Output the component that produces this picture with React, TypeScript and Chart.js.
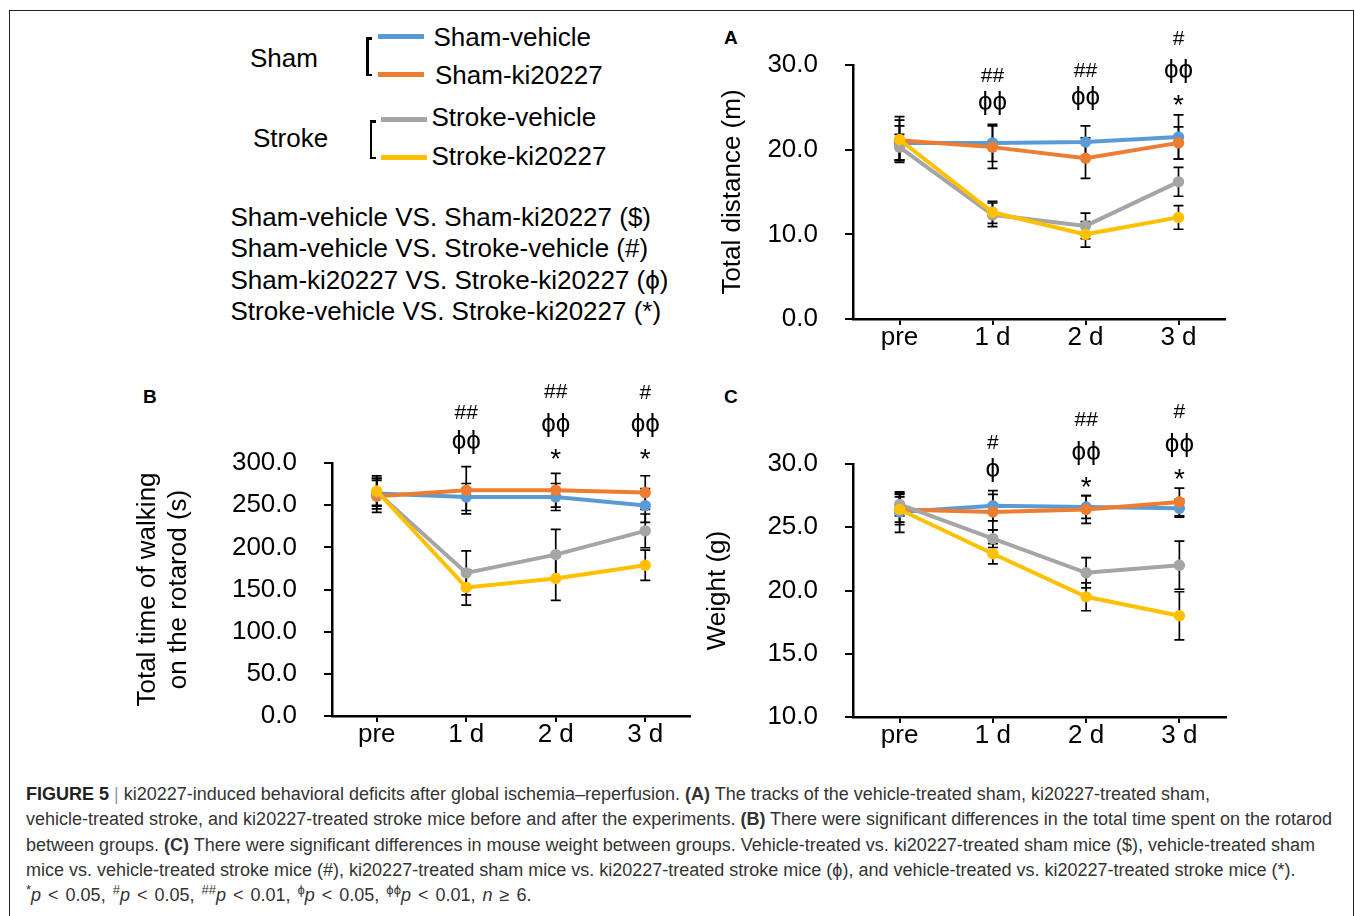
import React, { useEffect, useRef } from 'react';
import { Chart, registerables } from 'chart.js';

Chart.register(...registerables);

const FONT = "'Liberation Sans', Arial, Helvetica, sans-serif";
Chart.defaults.font.family = FONT;

// ---------- data ----------
const categories = ['pre', '1 d', '2 d', '3 d'];
const seriesNames = ['Sham-vehicle', 'Sham-ki20227', 'Stroke-vehicle', 'Stroke-ki20227'];
const seriesColors = ['#5B9BD5', '#ED7D31', '#A5A5A5', '#FFC000'];
const drawOrder = [3, 2, 1, 0];

// Panel A: total distance (m)
const distShamVehicle = [20.8, 20.8, 20.9, 21.5];
const distShamKi = [21.1, 20.3, 19.0, 20.8];
const distStrokeVehicle = [20.3, 12.3, 11.0, 16.2];
const distStrokeKi = [21.2, 12.6, 10.0, 12.0];
const distShamVehicleErr = [2.0, 2.2, 1.9, 2.6];
const distShamKiErr = [2.4, 2.5, 2.4, 1.9];
const distStrokeVehicleErr = [1.5, 1.4, 1.5, 1.7];
const distStrokeKiErr = [2.7, 1.3, 1.5, 1.4];
const distMarks: [string, string, number][] = [
  ['1 d', '##', 28.9], ['1 d', 'ϕϕ', 25.5],
  ['2 d', '##', 29.5], ['2 d', 'ϕϕ', 26.1],
  ['3 d', '#', 33.3], ['3 d', 'ϕϕ', 29.3], ['3 d', '*', 26.1],
];

// Panel B: total time on rotarod (s)
const rotShamVehicle = [263.7, 259.7, 259.7, 249.5];
const rotShamKi = [260.5, 267.6, 267.6, 264.9];
const rotStrokeVehicle = [265.7, 169.7, 191.4, 219.5];
const rotStrokeKi = [266.8, 152.4, 163.0, 178.8];
const rotShamVehicleErr = [18, 16, 16, 20];
const rotShamKiErr = [19, 28, 20, 20];
const rotStrokeVehicleErr = [16, 26, 30, 20];
const rotStrokeKiErr = [18, 21, 26, 18];
const rotMarks: [string, string, number][] = [
  ['1 d', '##', 360.8], ['1 d', 'ϕϕ', 325.3],
  ['2 d', '##', 386.6], ['2 d', 'ϕϕ', 345.1], ['2 d', '*', 313.0],
  ['3 d', '#', 384.6], ['3 d', 'ϕϕ', 345.1], ['3 d', '*', 313.0],
];

// Panel C: weight (g)
const wShamVehicle = [26.2, 26.7, 26.6, 26.5];
const wShamKi = [26.4, 26.2, 26.4, 27.0];
const wStrokeVehicle = [26.8, 24.1, 21.4, 22.0];
const wStrokeKi = [26.4, 22.9, 19.5, 18.0];
const wShamVehicleErr = [1.6, 1.2, 0.9, 0.7];
const wShamKiErr = [1.2, 1.4, 1.1, 1.1];
const wStrokeVehicleErr = [0.9, 0.7, 1.2, 1.9];
const wStrokeKiErr = [1.0, 0.8, 1.1, 1.9];
const wMarks: [string, string, number][] = [
  ['1 d', '#', 31.76], ['1 d', 'ϕ', 29.53],
  ['2 d', '##', 33.6], ['2 d', 'ϕϕ', 30.85], ['2 d', '*', 28.73],
  ['3 d', '#', 34.2], ['3 d', 'ϕϕ', 31.5], ['3 d', '*', 29.39],
];

const comparisonLines = [
  'Sham-vehicle VS. Sham-ki20227 ($)',
  'Sham-vehicle VS. Stroke-vehicle (#)',
  'Sham-ki20227 VS. Stroke-ki20227 (ϕ)',
  'Stroke-vehicle VS. Stroke-ki20227 (*)',
];

// ---------- plugins ----------
const errorBarPlugin = {
  id: 'errorBars',
  beforeDatasetsDraw(chart: any, _args: any, opts: any) {
    const { ctx } = chart;
    const xs = chart.scales.x;
    const ys = chart.scales.y;
    const errs: number[][] = opts.errors || [];
    ctx.save();
    ctx.strokeStyle = '#000';
    ctx.lineWidth = 1.7;
    chart.data.datasets.forEach((ds: any, di: number) => {
      (ds.data as number[]).forEach((v, i) => {
        const e = errs[di]?.[i] ?? 0;
        const px = xs.getPixelForValue(i);
        const top = ys.getPixelForValue(v + e);
        const bot = ys.getPixelForValue(v - e);
        ctx.beginPath();
        ctx.moveTo(px, top);
        ctx.lineTo(px, bot);
        ctx.moveTo(px - 5, top);
        ctx.lineTo(px + 5, top);
        ctx.moveTo(px - 5, bot);
        ctx.lineTo(px + 5, bot);
        ctx.stroke();
      });
    });
    ctx.restore();
  },
};

// font size and vertical lift (in em) of each annotation glyph
const glyphStyle: Record<string, { size: number; lift: number }> = {
  '#': { size: 21, lift: 0.36 },
  'ϕ': { size: 26, lift: 0.27 },
  '*': { size: 28, lift: 0.58 },
};

const sigPlugin = {
  id: 'sigMarks',
  afterDraw(chart: any, _args: any, opts: any) {
    const { ctx } = chart;
    const xs = chart.scales.x;
    const ys = chart.scales.y;
    ctx.save();
    ctx.fillStyle = '#000';
    ctx.textAlign = 'center';
    ctx.textBaseline = 'alphabetic';
    (opts.marks || []).forEach((m: [string, string, number]) => {
      const st = glyphStyle[m[1][0]] || glyphStyle['#'];
      ctx.font = `${st.size}px ${FONT}`;
      const px = xs.getPixelForValue(categories.indexOf(m[0]));
      const py = ys.getPixelForValue(m[2]);
      ctx.fillText(m[1], px, py + st.lift * st.size);
    });
    ctx.restore();
  },
};

type PanelCfg = {
  left: number; top: number; w: number; h: number;
  padding: { top: number; right: number; bottom: number; left: number };
  yWidth: number; xHeight: number; titlePad: number;
  yMin: number; yMax: number; yStep: number;
  yTitle: string | string[];
  values: number[][]; errors: number[][];
  marks: [string, string, number][];
};

function Panel({ cfg }: { cfg: PanelCfg }) {
  const ref = useRef<HTMLCanvasElement>(null);
  useEffect(() => {
    const c = cfg;
    const chart = new Chart(ref.current as HTMLCanvasElement, {
      type: 'line',
      data: {
        labels: categories,
        datasets: c.values.map((vals, i) => ({
          label: seriesNames[i],
          data: vals,
          borderColor: seriesColors[i],
          backgroundColor: seriesColors[i],
          pointBackgroundColor: seriesColors[i],
          pointBorderColor: seriesColors[i],
          pointBorderWidth: 0,
          pointRadius: 5.7,
          borderWidth: 4,
          tension: 0,
          order: drawOrder[i],
        })),
      },
      options: {
        responsive: false,
        animation: false,
        devicePixelRatio: 1,
        layout: { padding: c.padding },
        plugins: {
          legend: { display: false },
          tooltip: { enabled: false },
          title: { display: false },
          errorBars: { errors: c.errors },
          sigMarks: { marks: c.marks },
        } as any,
        scales: {
          x: {
            type: 'category',
            offset: true,
            grid: {
              display: true, drawOnChartArea: false, drawTicks: true,
              tickLength: 6, color: '#000', lineWidth: 2, offset: false,
            },
            border: { display: true, color: '#000', width: 2.5 },
            ticks: {
              color: '#000', font: { size: 26, lineHeight: 1 }, padding: 0,
              maxRotation: 0, autoSkip: false,
            },
            afterFit: (s: any) => { s.height = c.xHeight; s.paddingLeft = 0; s.paddingRight = 0; },
          },
          y: {
            min: c.yMin,
            max: c.yMax,
            ticks: {
              stepSize: c.yStep,
              color: '#000',
              font: { size: 26 },
              padding: 27,
              callback: (v: any) => Number(v).toFixed(1),
            },
            grid: {
              display: true, drawOnChartArea: false, drawTicks: true,
              tickLength: 8, color: '#000', lineWidth: 2,
            },
            border: { display: true, color: '#000', width: 2.5 },
            title: {
              display: true, text: c.yTitle, color: '#000',
              font: { size: 26 }, padding: { top: c.titlePad, bottom: 0 },
            },
            afterFit: (s: any) => { s.width = c.yWidth; s.paddingTop = 0; s.paddingBottom = 0; },
          },
        },
      } as any,
      plugins: [errorBarPlugin, sigPlugin],
    });
    return () => chart.destroy();
  }, []);
  return (
    <canvas
      ref={ref}
      width={cfg.w}
      height={cfg.h}
      style={{ position: 'absolute', left: cfg.left, top: cfg.top, width: cfg.w, height: cfg.h }}
    />
  );
}

const panelA: PanelCfg = {
  left: 700, top: 20, w: 560, h: 340,
  padding: { top: 45, right: 35, bottom: 0, left: 0 },
  yWidth: 153, xHeight: 41, titlePad: 17,
  yMin: 0, yMax: 30, yStep: 10,
  yTitle: 'Total distance (m)',
  values: [distShamVehicle, distShamKi, distStrokeVehicle, distStrokeKi],
  errors: [distShamVehicleErr, distShamKiErr, distStrokeVehicleErr, distStrokeKiErr],
  marks: distMarks,
};

const panelB: PanelCfg = {
  left: 130, top: 380, w: 590, h: 390,
  padding: { top: 83, right: 30, bottom: 0, left: 0 },
  yWidth: 202, xHeight: 54, titlePad: 2.4,
  yMin: 0, yMax: 300, yStep: 50,
  yTitle: ['Total time of walking', 'on the rotarod (s)'],
  values: [rotShamVehicle, rotShamKi, rotStrokeVehicle, rotStrokeKi],
  errors: [rotShamVehicleErr, rotShamKiErr, rotStrokeVehicleErr, rotStrokeKiErr],
  marks: rotMarks,
};

const panelC: PanelCfg = {
  left: 700, top: 380, w: 560, h: 390,
  padding: { top: 84, right: 34, bottom: 0, left: 0 },
  yWidth: 153, xHeight: 53, titlePad: 2.4,
  yMin: 10, yMax: 30, yStep: 5,
  yTitle: 'Weight (g)',
  values: [wShamVehicle, wShamKi, wStrokeVehicle, wStrokeKi],
  errors: [wShamVehicleErr, wShamKiErr, wStrokeVehicleErr, wStrokeKiErr],
  marks: wMarks,
};

// ---------- html helpers ----------
function Txt(props: { x: number; base: number; size: number; children: any; bold?: boolean; color?: string; wordSpacing?: number }) {
  const off = 0.8465 * props.size;
  return (
    <div
      style={{
        position: 'absolute', left: props.x, top: props.base - off,
        fontSize: props.size, lineHeight: `${props.size}px`, fontFamily: FONT,
        fontWeight: props.bold ? 'bold' : 'normal', color: props.color || '#000',
        whiteSpace: 'nowrap', wordSpacing: props.wordSpacing || 0,
      }}
    >
      {props.children}
    </div>
  );
}

function Bar(props: { x: number; y: number; w: number; h: number; color: string }) {
  return (
    <div style={{ position: 'absolute', left: props.x, top: props.y, width: props.w, height: props.h, background: props.color }} />
  );
}

const supStyle: React.CSSProperties = { fontSize: 13, lineHeight: 0, verticalAlign: 'super' };

export default function App() {
  const capColor = '#333';
  const capSize = 18;
  return (
    <div style={{ position: 'fixed', left: 0, top: 0, width: 1355, height: 916, overflow: 'hidden', background: '#fff' }}>
      <div style={{ position: 'absolute', left: 9, top: 10, width: 1345, height: 1000, border: '1px solid #222', boxSizing: 'border-box' }} />

      {/* legend */}
      <Txt x={250} base={66.7} size={26}>Sham</Txt>
      <Txt x={253} base={147.3} size={26}>Stroke</Txt>
      <Bar x={366} y={37} w={2.5} h={39} color="#000" />
      <Bar x={366} y={37} w={6} h={2.5} color="#000" />
      <Bar x={366} y={73.5} w={6} h={2.5} color="#000" />
      <Bar x={369.5} y={120} w={2.5} h={39} color="#000" />
      <Bar x={369.5} y={120} w={6} h={2.5} color="#000" />
      <Bar x={369.5} y={156.5} w={6} h={2.5} color="#000" />
      <Bar x={378} y={33.5} w={46} h={5} color={seriesColors[0]} />
      <Bar x={378} y={71.5} w={46} h={5} color={seriesColors[1]} />
      <Bar x={381} y={117} w={46} h={5} color={seriesColors[2]} />
      <Bar x={381} y={154.5} w={46} h={5} color={seriesColors[3]} />
      <Txt x={433.5} base={45.7} size={26}>{seriesNames[0]}</Txt>
      <Txt x={435} base={84.3} size={26}>{seriesNames[1]}</Txt>
      <Txt x={431.5} base={126} size={26}>{seriesNames[2]}</Txt>
      <Txt x={431.5} base={165} size={26}>{seriesNames[3]}</Txt>
      {comparisonLines.map((t, i) => (
        <Txt key={i} x={230.5} base={225.7 + i * 31.5} size={26}>{t}</Txt>
      ))}

      {/* panel letters */}
      <Txt x={724} base={44} size={19} bold>A</Txt>
      <Txt x={143} base={403} size={19} bold>B</Txt>
      <Txt x={724} base={403} size={19} bold>C</Txt>

      <Panel cfg={panelA} />
      <Panel cfg={panelB} />
      <Panel cfg={panelC} />

      {/* caption */}
      <Txt x={26} base={800} size={capSize} color={capColor}>
        <b style={{ color: '#222' }}>FIGURE 5</b> <span style={{ color: '#999' }}>|</span> ki20227-induced behavioral deficits after global ischemia–reperfusion. <b>(A)</b> The tracks of the vehicle-treated sham, ki20227-treated sham,
      </Txt>
      <Txt x={26} base={825.5} size={capSize} color={capColor}>
        vehicle-treated stroke, and ki20227-treated stroke mice before and after the experiments. <b>(B)</b> There were significant differences in the total time spent on the rotarod
      </Txt>
      <Txt x={26} base={851} size={capSize} color={capColor}>
        between groups. <b>(C)</b> There were significant differences in mouse weight between groups. Vehicle-treated vs. ki20227-treated sham mice ($), vehicle-treated sham
      </Txt>
      <Txt x={26} base={876} size={capSize} color={capColor}>
        mice vs. vehicle-treated stroke mice (#), ki20227-treated sham mice vs. ki20227-treated stroke mice (ϕ), and vehicle-treated vs. ki20227-treated stroke mice (*).
      </Txt>
      <Txt x={26} base={901} size={capSize} color={capColor} wordSpacing={2}>
        <span style={supStyle}>*</span><i>p</i> &lt; 0.05, <span style={supStyle}>#</span><i>p</i> &lt; 0.05, <span style={supStyle}>##</span><i>p</i> &lt; 0.01, <span style={supStyle}>ϕ</span><i>p</i> &lt; 0.05, <span style={supStyle}>ϕϕ</span><i>p</i> &lt; 0.01, <i>n</i> ≥ 6.
      </Txt>
    </div>
  );
}
